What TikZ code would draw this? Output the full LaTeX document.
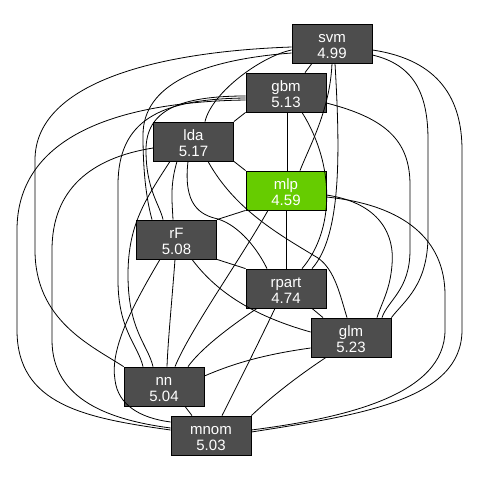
\documentclass[tikz,border=0pt]{standalone}
\usepackage{fontspec}
\setmainfont{Liberation Sans}
\definecolor{boxgray}{HTML}{4D4D4D}
\definecolor{mlpgreen}{HTML}{66CC00}

\begin{document}
\begin{tikzpicture}[x=1pt,y=-1pt,line width=0.8pt,
	box/.style={draw=black,fill=#1,text=white,minimum width=80pt,minimum height=39pt,inner sep=0pt,align=center,font=\fontsize{15}{16.7}\selectfont}]
\fill[white] (0,0) rectangle (480,480);
\useasboundingbox (0,0) rectangle (480,480);

\def\modell#1#2#3#4{
	\node[box=#4] (#1) at (#2) {\rule{0pt}{14pt}#1\\#3};
}

\modell{svm}{332,43.5}{4.99}{boxgray}
\modell{gbm}{286,92.5}{5.13}{boxgray}
\modell{lda}{193.5,141.5}{5.17}{boxgray}
\modell{mlp}{286,190.5}{4.59}{mlpgreen}
\modell{rF}{176.5,239.5}{5.08}{boxgray}
\modell{rpart}{286,288.5}{4.74}{boxgray}
\modell{glm}{351,337.5}{5.23}{boxgray}
\modell{nn}{164,386.5}{5.04}{boxgray}
\modell{mnom}{211,435.5}{5.03}{boxgray}

\draw ([xshift=-20pt]svm.south) -- ([xshift=19pt]gbm.north);
\draw ([yshift=-6.5pt]svm.west) .. controls (262,56) and (212,92) .. ([xshift=11.5pt]lda.north);
\draw (svm.south) .. controls (330,110) and (310,145) .. ([xshift=14pt]mlp.north);
\draw ([yshift=-9.5pt]svm.west) .. controls (200,60) and (143,85) .. (143,135) .. controls (143,180) and (148,205) .. ([xshift=-24.5pt]rF.north);
\draw ([xshift=3pt]svm.south) .. controls (340,150) and (342,235) .. ([xshift=26pt]rpart.north);
\draw ([yshift=-11.5pt]svm.east) .. controls (415,65) and (428,95) .. (428,140) -- (428,235) .. controls (428,285) and (405,300) .. (glm.north east);
\draw ([yshift=-3.5pt]svm.west) .. controls (150,52) and (35,85) .. (35,160) -- (35,250) .. controls (35,320) and (90,345) .. (nn.north west);
\draw ([yshift=-6.5pt]svm.east) .. controls (440,60) and (462,100) .. (462,150) -- (462,330) .. controls (462,400) and (360,415) .. ([yshift=3.5pt]mnom.east);

\draw (gbm.south west) -- (lda.north east);
\draw ([xshift=1pt]gbm.south) -- ([xshift=1pt]mlp.north);
\draw ([yshift=-3.5pt]gbm.west) .. controls (180,96) and (146,110) .. (146,150) .. controls (146,190) and (160,205) .. ([xshift=-13.5pt]rF.north);
\draw ([xshift=16pt]gbm.south) .. controls (335,165) and (335,230) .. ([xshift=16pt]rpart.north);
\draw ([yshift=-10.5pt]gbm.east) .. controls (385,118) and (410,140) .. (410,185) -- (410,250) .. controls (410,290) and (388,300) .. ([xshift=31pt]glm.north);
\draw ([yshift=-5.5pt]gbm.west) .. controls (160,99) and (118,120) .. (118,185) -- (118,280) .. controls (118,330) and (138,345) .. ([xshift=-21pt]nn.north);
\draw ([yshift=-7.5pt]gbm.west) .. controls (110,102) and (17,140) .. (17,230) -- (17,330) .. controls (17,405) and (85,418) .. ([yshift=5.5pt]mnom.west);

\draw (lda.south east) -- (mlp.north west);
\draw ([xshift=-16.5pt]lda.south) .. controls (170,185) and (172,200) .. ([xshift=-3.5pt]rF.north);
\draw ([xshift=-5.5pt]lda.south) .. controls (183,205) and (200,215) .. (218,219) .. controls (240,226) and (258,250) .. ([xshift=-19pt]rpart.north);
\draw ([xshift=14.5pt]lda.south) .. controls (235,210) and (280,235) .. (318,258) .. controls (335,270) and (340,295) .. ([xshift=-4pt]glm.north);
\draw ([xshift=-23.5pt]lda.south) .. controls (145,200) and (128,225) .. (128,275) .. controls (128,330) and (148,345) .. ([xshift=-11pt]nn.north);
\draw ([yshift=-6.5pt]lda.west) .. controls (90,158) and (52,190) .. (52,250) -- (52,340) .. controls (52,400) and (110,420) .. ([yshift=7.5pt]mnom.west);

\draw (mlp.south west) -- (rF.north east);
\draw (mlp.south) -- (rpart.north);
\draw ([yshift=-4.5pt]mlp.east) .. controls (380,203) and (395,235) .. (392,265) .. controls (390,290) and (382,302) .. ([xshift=26pt]glm.north);
\draw ([xshift=-18pt]mlp.south) .. controls (240,260) and (190,330) .. ([xshift=11pt]nn.north);
\draw ([yshift=-6.5pt]mlp.east) .. controls (405,205) and (445,240) .. (445,295) -- (445,330) .. controls (445,395) and (345,418) .. ([yshift=5.5pt]mnom.east);

\draw (rF.south east) -- (rpart.north west);
\draw ([xshift=15.5pt]rF.south) .. controls (215,290) and (250,315) .. ([yshift=5.5pt]glm.west);
\draw ([xshift=-1.5pt]rF.south) .. controls (172,300) and (168,340) .. ([xshift=3pt]nn.north);
\draw ([xshift=-16.5pt]rF.south) .. controls (130,310) and (110,350) .. (115,380) .. controls (118,405) and (140,418) .. ([yshift=13.5pt]mnom.west);

\draw ([xshift=26pt]rpart.south) -- ([xshift=-28pt]glm.north);
\draw ([xshift=-29pt]rpart.south) .. controls (225,330) and (200,350) .. ([xshift=24pt]nn.north);
\draw ([xshift=-11pt]rpart.south) .. controls (255,350) and (235,390) .. ([xshift=11pt]mnom.north);

\draw ([yshift=-10.5pt]glm.west) .. controls (260,355) and (230,365) .. ([yshift=10.5pt]nn.east);
\draw ([xshift=-25pt]glm.south) .. controls (295,378) and (270,398) .. (mnom.north east);

\draw ([xshift=21pt]nn.south) -- ([xshift=-19pt]mnom.north);

\end{tikzpicture}
\end{document}
